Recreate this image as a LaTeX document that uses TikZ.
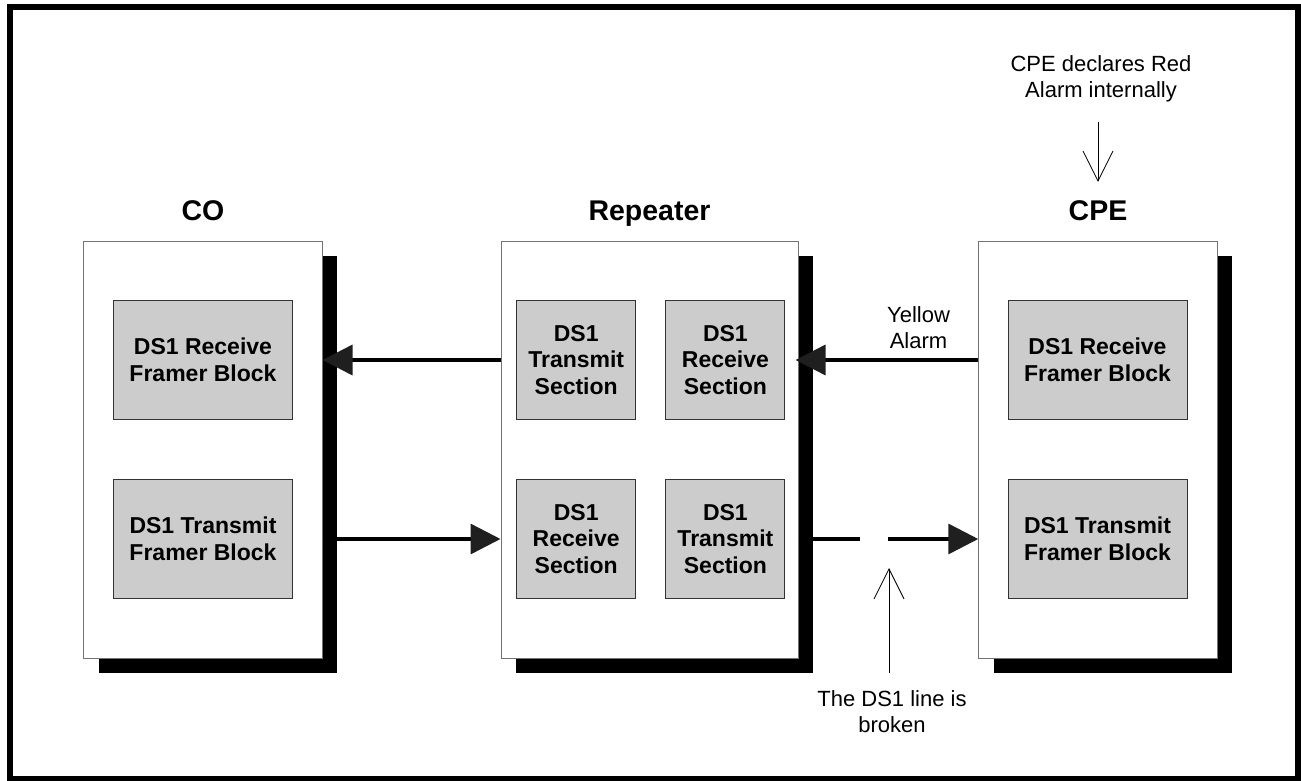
\documentclass[tikz,border=0pt]{standalone}
\usepackage{fontspec}
\setmainfont{Liberation Sans}
\usetikzlibrary{arrows.meta,shadows}
\tikzset{
  unitbox/.style={draw=black!55, line width=1pt, fill=white, minimum width=238.5pt,
    minimum height=417pt, inner sep=0pt,
    drop shadow={shadow xshift=15pt, shadow yshift=-15pt, fill=black, opacity=1}},
  wide/.style={draw=black!80, line width=1pt, fill=black!20, minimum width=179pt,
    minimum height=119pt, inner sep=0pt, align=center,
    font=\bfseries\fontsize{23}{26.7}\selectfont},
  sq/.style={wide, minimum width=119pt},
  title/.style={font=\bfseries\fontsize{28.5}{32}\selectfont, inner sep=0pt, anchor=base},
  note/.style={font=\fontsize{22}{26}\selectfont, align=center, inner sep=0pt},
  sig/.style={line width=3.5pt, -{Triangle[length=30pt,width=30pt,color=black!88]}},
  sigline/.style={line width=3.5pt},
  ptr/.style={line width=0.8pt, -{Straight Barb[length=30pt,width=30pt]}},
}
\begin{document}
\begin{tikzpicture}[x=1pt,y=-1pt]
\useasboundingbox (0,0) rectangle (1301,781);
\draw[line width=6pt] (10,7) rectangle (1298,779);

% unit boxes
\node[unitbox] (co) at (202.75,449.5) {};
\node[unitbox, minimum width=297pt] (rep) at (649.5,449.5) {};
\node[unitbox] (cpe) at (1098,449.5) {};

% titles
\node[title] (colbl) at (203,220) {CO};
\node[title] (replbl) at (649.5,220) {Repeater};
\node[title] (cpelbl) at (1098,220) {CPE};

% inner blocks
\node[wide] (cor) at (203,360) {DS1 Receive\\Framer Block};
\node[wide] (cot) at (203,539) {DS1 Transmit\\Framer Block};
\node[sq] (rtx) at (576.2,360) {DS1\\Transmit\\Section};
\node[sq] (rrx) at (725.4,360) {DS1\\Receive\\Section};
\node[sq] (rrb) at (576.2,539) {DS1\\Receive\\Section};
\node[sq] (rtb) at (725.4,539) {DS1\\Transmit\\Section};
\node[wide] (cpr) at (1097.5,360) {DS1 Receive\\Framer Block};
\node[wide] (cpt) at (1097.5,539) {DS1 Transmit\\Framer Block};

% notes
\node[note] (redlbl) at (1101,79) {CPE declares Red\\Alarm internally};
\node[note] (yellbl) at (918.5,328) {Yellow\\Alarm};
\node[note] (brklbl) at (892,712) {The DS1 line is\\broken};

% signal arrows
\draw[sig] (rtx -| rep.west) -- (cor -| co.east);
\draw[sig, shorten >=-3pt] (cpr -| cpe.west) -- (rrx -| rep.east);
\draw[sig] (cot -| co.east) -- (rrb -| rep.west);
\coordinate (gapL) at (860,539);
\coordinate (gapR) at (888,539);
\draw[sigline] (rtb -| rep.east) -- (gapL);
\draw[sig] (gapR) -- (cpt -| cpe.west);

% pointers
\coordinate (brk) at (889,568);
\draw[ptr, shorten <=18pt] (brklbl.north -| brk) -- (brk);
\draw[ptr, shorten <=20pt, shorten >=18pt] (redlbl.south -| cpelbl) -- (cpelbl.north);
\end{tikzpicture}
\end{document}
